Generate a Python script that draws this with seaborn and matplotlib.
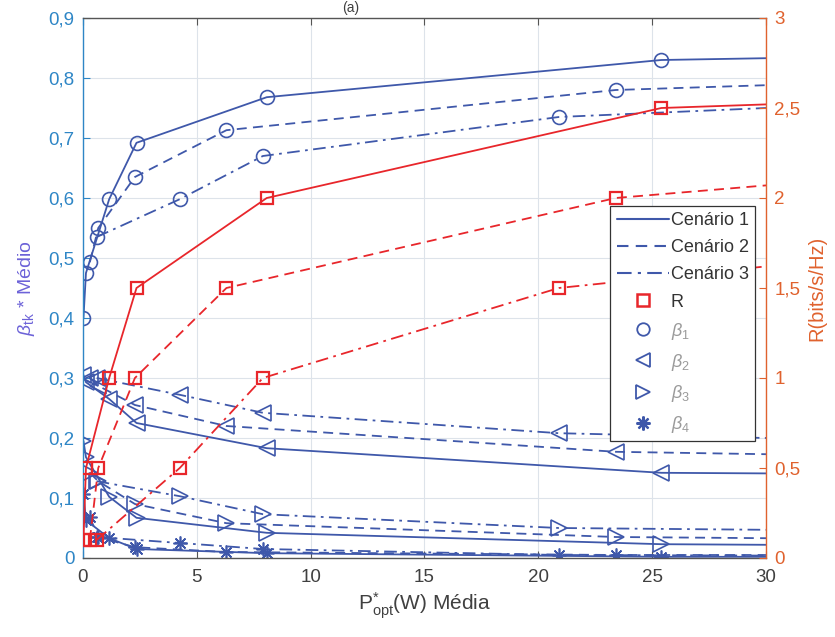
import matplotlib
matplotlib.use("Agg")
import matplotlib.pyplot as plt
from matplotlib.lines import Line2D
from matplotlib.ticker import FuncFormatter, MultipleLocator
import seaborn as sns

# Average optimal power P*_opt (W) for each scenario; last point closes the curve at 30 W
p_c1 = [0.02, 0.13, 1.15, 2.35, 8.07, 25.4, 30]
p_c2 = [0.30, 0.67, 2.28, 6.30, 23.4, 30]
p_c3 = [0.60, 4.25, 7.90, 20.9, 30]

# Rate R (bits/s/Hz)
r_c1 = [0.1, 0.5, 1.0, 1.5, 2.0, 2.5, 2.52]
r_c2 = [0.1, 0.5, 1.0, 1.5, 2.0, 2.07]
r_c3 = [0.1, 0.5, 1.0, 1.5, 1.62]

# Average beta coefficients
b1_c1 = [0.400, 0.475, 0.598, 0.692, 0.768, 0.830, 0.833]
b2_c1 = [0.305, 0.293, 0.265, 0.225, 0.183, 0.142, 0.141]
b3_c1 = [0.195, 0.168, 0.102, 0.067, 0.042, 0.023, 0.022]
b4_c1 = [0.107, 0.063, 0.033, 0.015, 0.008, 0.002, 0.002]

b1_c2 = [0.493, 0.550, 0.635, 0.713, 0.780, 0.788]
b2_c2 = [0.300, 0.287, 0.255, 0.220, 0.177, 0.173]
b3_c2 = [0.142, 0.128, 0.090, 0.058, 0.035, 0.033]
b4_c2 = [0.068, 0.035, 0.018, 0.010, 0.005, 0.005]

b1_c3 = [0.535, 0.598, 0.670, 0.735, 0.750]
b2_c3 = [0.300, 0.272, 0.242, 0.208, 0.200]
b3_c3 = [0.128, 0.103, 0.073, 0.050, 0.047]
b4_c3 = [0.035, 0.025, 0.015, 0.005, 0.004]

scenario_labels = ["Cenário 1", "Cenário 2", "Cenário 3"]
x_ticks = [0, 5, 10, 15, 20, 25, 30]

sns.set_theme(style="whitegrid")
plt.rcParams["font.family"] = ["Liberation Sans", "DejaVu Sans"]
plt.rcParams["mathtext.fontset"] = "custom"
plt.rcParams["mathtext.it"] = "Liberation Sans:italic"
plt.rcParams["mathtext.rm"] = "Liberation Sans"

BLUE = "#3F58AA"
RED = "#E8262B"
AX_BLUE = "#2E86C6"
AX_ORANGE = "#E0622E"
DARK = "#404040"

fig = plt.figure(figsize=(8.35, 6.37), dpi=100)
ax = fig.add_axes([83 / 835, 1 - 558 / 637, 683 / 835, 540 / 637])
ax2 = ax.twinx()

styles = ["-", (0, (5.5, 3.5)), (0, (7, 3, 1.5, 3))]
xs = [p_c1, p_c2, p_c3]
rs = [r_c1, r_c2, r_c3]
betas = [
    [b1_c1, b2_c1, b3_c1, b4_c1],
    [b1_c2, b2_c2, b3_c2, b4_c2],
    [b1_c3, b2_c3, b3_c3, b4_c3],
]
beta_markers = ["o", "<", ">", (8, 2, 0)]
beta_sizes = [10, 11, 11, 10]

for x, rr, bb, ls in zip(xs, rs, betas, styles):
    for vals, mk, ms in zip(bb, beta_markers, beta_sizes):
        sns.lineplot(x=x, y=vals, ax=ax, color=BLUE, linestyle=ls, linewidth=1.3,
                     marker=mk, markersize=ms, markerfacecolor="none",
                     markeredgecolor=BLUE, markeredgewidth=1.2,
                     markevery=slice(0, -1), legend=False, sort=False,
                     errorbar=None, clip_on=True)
    sns.lineplot(x=x, y=rr, ax=ax2, color=RED, linestyle=ls, linewidth=1.3,
                 marker="s", markersize=8, markerfacecolor="none",
                 markeredgecolor=RED, markeredgewidth=1.6,
                 markevery=slice(0, -1), legend=False, sort=False,
                 errorbar=None, clip_on=True)

comma = FuncFormatter(lambda v, _: f"{v:g}".replace(".", ","))

ax.set_xlim(0, 30)
ax.set_ylim(0, 0.9)
ax2.set_ylim(0, 3)
ax.set_xticks(x_ticks)
ax.yaxis.set_major_locator(MultipleLocator(0.1))
ax2.yaxis.set_major_locator(MultipleLocator(0.5))
ax.yaxis.set_major_formatter(comma)
ax2.yaxis.set_major_formatter(comma)

ax.grid(True, color="#DDE3EA", linewidth=0.8)
ax2.grid(False)
ax.set_facecolor("white")

for a in (ax, ax2):
    for s in a.spines.values():
        s.set_linewidth(1.0)
ax.spines["top"].set_color("#555555")
ax.spines["bottom"].set_color("#555555")
ax.spines["left"].set_color(AX_BLUE)
ax2.spines["right"].set_color(AX_ORANGE)
ax2.spines["left"].set_visible(False)
ax2.spines["top"].set_visible(False)
ax2.spines["bottom"].set_visible(False)
ax.spines["right"].set_visible(False)

ax.tick_params(axis="x", which="both", direction="in", top=True, bottom=True,
               length=5, width=0.8, color="#555555", labelcolor=DARK,
               labelsize=13.5, pad=8)
ax.tick_params(axis="y", direction="in", left=True, right=False, length=5,
               width=0.8, color=AX_BLUE, labelcolor=AX_BLUE, labelsize=13.5, pad=6)
ax2.tick_params(axis="y", direction="in", right=True, length=5, width=0.8,
                color=AX_ORANGE, labelcolor=AX_ORANGE, labelsize=13.5, pad=6)

ax.set_xlabel(r"P$^{*}_{\mathrm{opt}}$(W) Média", fontsize=15, color=DARK, labelpad=3)
ax.set_ylabel(r"$\beta_{\mathrm{tk}}$ * Médio", fontsize=14, color="#6C62D8", labelpad=8)
ax2.set_ylabel("R(bits/s/Hz)", fontsize=14.5, color=AX_ORANGE, labelpad=5)

fig.text(351 / 835, 1 - 1 / 637, "(a)", ha="center", va="top",
         fontsize=10, color=DARK)

handles = [Line2D([], [], color=BLUE, linestyle=ls, linewidth=1.5) for ls in styles]
handles += [
    Line2D([], [], color=RED, marker="s", linestyle="none", markersize=8,
           markerfacecolor="none", markeredgewidth=1.8),
    Line2D([], [], color=BLUE, marker="o", linestyle="none", markersize=9,
           markerfacecolor="none", markeredgewidth=1.3),
    Line2D([], [], color=BLUE, marker="<", linestyle="none", markersize=10,
           markerfacecolor="none", markeredgewidth=1.3),
    Line2D([], [], color=BLUE, marker=">", linestyle="none", markersize=10,
           markerfacecolor="none", markeredgewidth=1.3),
    Line2D([], [], color=BLUE, marker=(8, 2, 0), linestyle="none", markersize=10,
           markeredgewidth=1.6),
]
labels = scenario_labels + ["R", r"$\beta_1$", r"$\beta_2$", r"$\beta_3$", r"$\beta_4$"]

leg = ax2.legend(handles, labels, loc="upper right", bbox_to_anchor=(0.984, 0.652),
                 fontsize=13, frameon=True, fancybox=False, framealpha=1,
                 edgecolor="#333333", handlelength=2.9, handletextpad=0.1,
                 labelspacing=0.56, borderpad=0.35, borderaxespad=0)
leg.get_frame().set_linewidth(0.9)
for i, t in enumerate(leg.get_texts()):
    t.set_color("#333333" if i < 4 else "#9A9A9A")

fig.savefig("out.png", dpi=100, facecolor="white")
